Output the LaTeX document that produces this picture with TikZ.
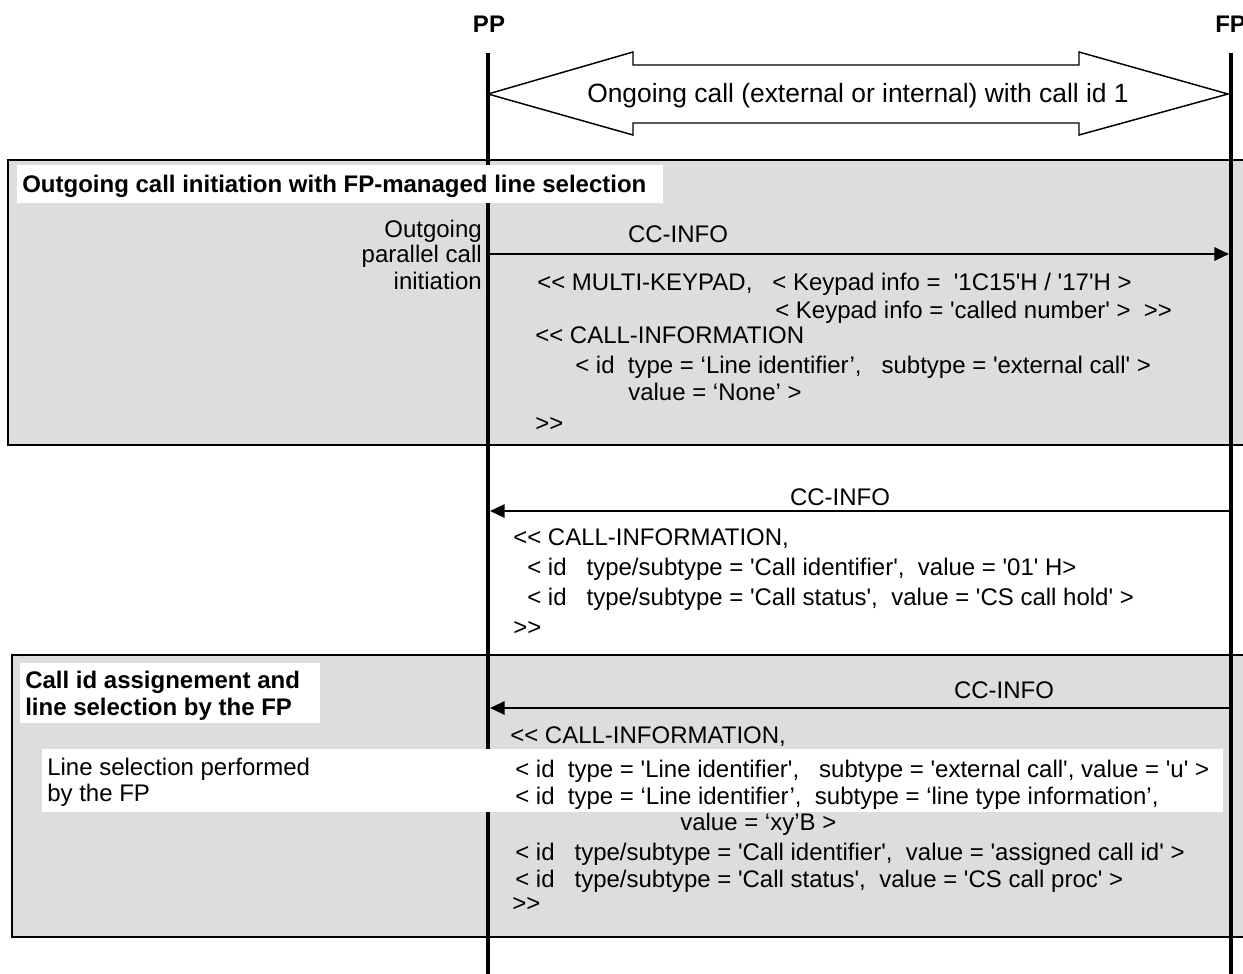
\documentclass[tikz,border=0pt]{standalone}
\usepackage{fontspec}
\setmainfont{Liberation Sans}[Ligatures=TeXOff]
\usepackage{xcolor}
\definecolor{PhaseGrey}{HTML}{DDDDDD}
\usetikzlibrary{arrows.meta}

\begin{document}
\begin{tikzpicture}[x=0.75pt,y=-0.75pt,
  every node/.style={inner sep=0pt},
  txt/.style={font=\fontsize{18}{21}\selectfont,anchor=base west},
  lbl/.style={font=\fontsize{18}{21}\selectfont,anchor=base},
  head/.style={font=\fontsize{18}{21}\selectfont\bfseries,anchor=base west},
  lifeline/.style={line width=3pt},
  msg/.style={-{Triangle[length=11pt,width=10pt]},line width=1.5pt},
  phase/.style={draw,line width=1.1pt,fill=PhaseGrey},
  blank/.style={fill=white},
  bigarrow/.style={draw,line width=1.1pt,fill=white,line join=miter}]
\useasboundingbox (0,0) rectangle (1243,974);
\path[phase] (8,160) rectangle (1250,445);
\path[phase] (12,655) rectangle (1250,937);
\coordinate (pptop) at (488,53);
\coordinate (ppbot) at (488,974);
\coordinate (fptop) at (1231,53);
\coordinate (fpbot) at (1231,974);
\draw[lifeline] (pptop) -- (ppbot);
\draw[lifeline] (fptop) -- (fpbot);
\path[blank] (17,165) rectangle (663,203);
\path[blank] (20,663) rectangle (320,723);
\path[blank] (42,749) rectangle (1223,812);
\node[head,anchor=base] (pp) at (489,33) {PP};
\node[head] (fp) at (1215,33) {FP};
\path[bigarrow] (488,94) -- (633,52) -- (633,65) -- (1079,65) -- (1079,52)
  -- (1228,94) -- (1079,135) -- (1079,123) -- (633,123) -- (633,135) -- cycle;
\node[txt,font=\fontsize{19.8}{23}\selectfont] (ongoing) at (587,103)
  {Ongoing call (external or internal) with call id 1};
\node[head] (phase1) at (22,192) {Outgoing call initiation with FP-managed line selection};
\node[txt,anchor=base east] (init1) at (482,237) {Outgoing};
\node[txt,anchor=base east] (init2) at (482,262) {parallel call};
\node[txt,anchor=base east] (init3) at (482,289) {initiation};
\coordinate (pp1) at (489,254);
\coordinate (fp1) at (1229,254);
\draw[msg] (pp1) -- (fp1);
\node[lbl] (cc1) at (678,242) {CC-INFO};
\node[txt] (m1a) at (537,290) {<< MULTI-KEYPAD,~~~< Keypad info =~~'1C15'H / '17'H >};
\node[txt] (m1b) at (775,318) {< Keypad info = 'called number' >~~>>};
\node[txt] (m1c) at (535,343) {<< CALL-INFORMATION};
\node[txt] (m1d) at (575,373) {< id~~type = ‘Line identifier’,~~~subtype = 'external call' >};
\node[txt] (m1e) at (628,400) {value = ‘None’ >};
\node[txt] (m1f) at (535,431) {>>};
\coordinate (fp2) at (1231,511);
\coordinate (pp2) at (490,511);
\draw[msg] (fp2) -- (pp2);
\node[lbl] (cc2) at (840,505) {CC-INFO};
\node[txt] (m2a) at (513,545) {<< CALL-INFORMATION,};
\node[txt] (m2b) at (527,575) {< id~~~type/subtype = 'Call identifier',~~value = '01' H>};
\node[txt] (m2c) at (527,605) {< id~~~type/subtype = 'Call status',~~value = 'CS call hold' >};
\node[txt] (m2d) at (513,635) {>>};
\node[head] (phase2a) at (25,688) {Call id assignement and};
\node[head] (phase2b) at (25,715) {line selection by the FP};
\coordinate (fp3) at (1231,708);
\coordinate (pp3) at (490,708);
\draw[msg] (fp3) -- (pp3);
\node[lbl] (cc3) at (1004,698) {CC-INFO};
\node[txt] (sel1) at (47,775) {Line selection performed};
\node[txt] (sel2) at (47,801) {by the FP};
\node[txt] (m3a) at (510,743) {<< CALL-INFORMATION,};
\node[txt] (m3b) at (515,777) {< id~~type = 'Line identifier',~~~subtype = 'external call', value = 'u' >};
\node[txt] (m3c) at (515,804) {< id~~type = ‘Line identifier’,~~subtype = ‘line type information’,};
\node[txt] (m3d) at (680,830) {value = ‘xy’B >};
\node[txt] (m3e) at (515,860) {< id~~~type/subtype = 'Call identifier',~~value = 'assigned call id' >};
\node[txt] (m3f) at (515,887) {< id~~~type/subtype = 'Call status',~~value = 'CS call proc' >};
\node[txt] (m3g) at (512,911) {>>};
\end{tikzpicture}
\end{document}
